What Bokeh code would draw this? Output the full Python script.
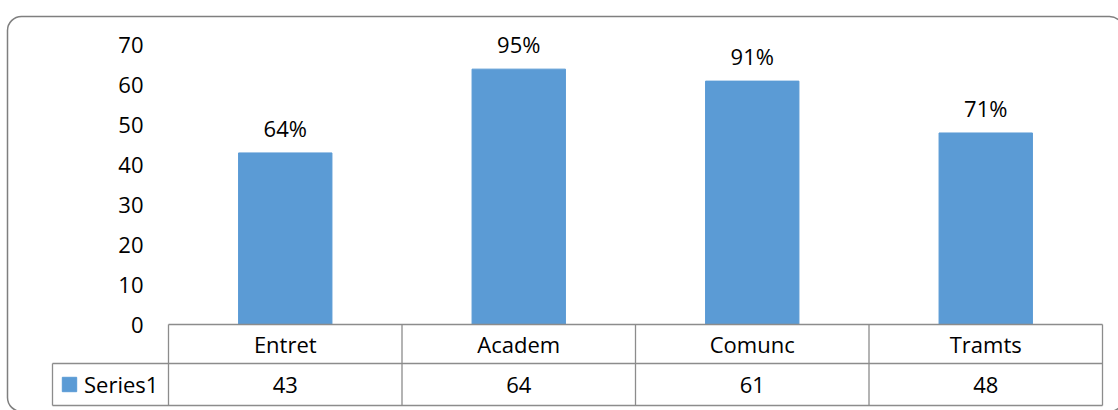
from bokeh.plotting import figure
from bokeh.models import (Range1d, FixedTicker, Legend, LegendItem, ColumnDataSource)
from bokeh.core.properties import value
from bokeh.embed import file_html
from bokeh.resources import INLINE

# ---- data ----
categories = ["Entret", "Academ", "Comunc", "Tramts"]
values = [43, 64, 61, 48]
pct_labels = ["64%", "95%", "91%", "71%"]
y_ticks = [0, 10, 20, 30, 40, 50, 60, 70]
series_name = "Series1"

# ---- layout constants (pixels) ----
W, H = 1118, 410
LEFT = 168          # pixel column of the plot area's left edge
ZERO_PX = 324       # pixel row of y = 0
PPU = 3.99          # pixels per y unit
CAT_PX = 233.5      # pixels per category
ROW1_PX = 363       # table: header row bottom
ROW2_PX = 405       # table: value row bottom
LEG_LEFT = 52       # table: legend cell left edge
BOX_L, BOX_R, BOX_T, BOX_B = 7, 1123, 16, 411   # outer rounded frame

FONT = value("Open Sans")
FS = "22px"
BAR = "#5B9BD5"
GRID = "#8c8c8c"


def px_x(px):
    return (px - LEFT) / CAT_PX


def px_y(py):
    return (ZERO_PX - py) / PPU


y_top = px_y(0)
y_bot = px_y(H)
x_start = px_x(0)
x_end = px_x(W)
row1 = px_y(ROW1_PX)
row2 = px_y(ROW2_PX)
leg_x = px_x(LEG_LEFT)

n = len(categories)
xs = [i + 0.5 for i in range(n)]
src = ColumnDataSource(dict(x=xs, top=values, cat=categories, pct=pct_labels,
                            val=[str(v) for v in values],
                            rowmid1=[row1 / 2] * n, rowmid2=[(row1 + row2) / 2] * n))

p = figure(width=W, height=H, x_range=Range1d(x_start, x_end), y_range=Range1d(y_bot, y_top),
           output_backend="svg", toolbar_location=None, x_axis_location=None,
           min_border_left=0, min_border_right=0, min_border_top=0, min_border_bottom=0,
           outline_line_color=None, background_fill_color="white", border_fill_color="white")
p.grid.visible = False

ax = p.yaxis[0]
ax.fixed_location = 0
ax.ticker = FixedTicker(ticks=y_ticks)
ax.axis_line_color = None
ax.major_tick_line_color = None
ax.minor_tick_line_color = None
ax.major_tick_out = 0
ax.major_tick_in = 0
ax.major_label_standoff = 25
ax.major_label_text_font = "Open Sans"
ax.major_label_text_font_size = FS
ax.major_label_text_color = "black"

# outer rounded frame
p.quad(left=[px_x(BOX_L)], right=[px_x(BOX_R)], top=[px_y(BOX_T)], bottom=[px_y(BOX_B)],
       fill_color=None, line_color="#7f7f7f", line_width=1.5, border_radius=14)

r = p.vbar(x="x", top="top", bottom=0, width=0.4, color=BAR, source=src)

p.text(x="x", y="top", text="pct", source=src, text_align="center",
       text_baseline="alphabetic", y_offset=-25, text_font=FONT,
       text_font_size=FS, text_color="black")

# table lines
hx0 = [0, leg_x, leg_x]
hx1 = [n, n, n]
hy = [0, row1, row2]
p.segment(x0=hx0, y0=hy, x1=hx1, y1=hy, line_color=GRID, line_width=1.3)
vx = [leg_x] + list(range(n + 1))
vy0 = [row1] + [0] * (n + 1)
p.segment(x0=vx, y0=vy0, x1=vx, y1=[row2] * (n + 2), line_color=GRID, line_width=1.3)

p.text(x="x", y="rowmid1", text="cat", source=src, text_align="center",
       text_baseline="middle", text_font=FONT, text_font_size=FS, text_color="black")
p.text(x="x", y="rowmid2", text="val", source=src, text_align="center",
       text_baseline="middle", text_font=FONT, text_font_size=FS, text_color="black")

legend = Legend(items=[LegendItem(label=series_name, renderers=[r])],
                location=(LEG_LEFT + 8, H - ROW2_PX + 6), orientation="vertical",
                padding=6, margin=0, spacing=0,
                glyph_width=18, glyph_height=18, label_standoff=6, label_width=60,
                label_text_font="Open Sans", label_text_font_size=FS,
                label_text_color="black", border_line_color=None,
                background_fill_alpha=0.0)
p.add_layout(legend)

open("out.html", "w").write(file_html(p, INLINE))
